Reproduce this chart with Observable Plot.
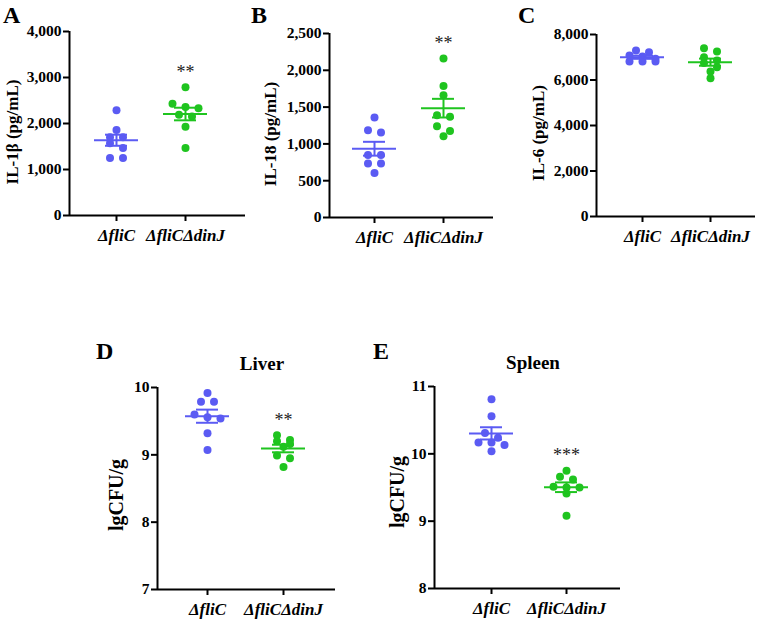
<!DOCTYPE html>
<html>
<head>
<meta charset="utf-8">
<script src="https://cdn.jsdelivr.net/npm/d3@7"></script>
<script src="https://cdn.jsdelivr.net/npm/@observablehq/plot@0.6"></script>
<style>
  html, body { margin: 0; padding: 0; background: #fff; }
  #fig { position: relative; width: 757px; height: 620px; background: #fff; overflow: hidden;
         font-family: "Liberation Serif", "Times New Roman", serif; font-weight: bold; color: #000; }
  .box { position: absolute; }
  .txt { position: absolute; white-space: nowrap; line-height: 1; }
  .letter { font-size: 24px; }
  .ylab { font-size: 17px; transform: translate(-50%, -50%) rotate(-90deg); }
  .title { font-size: 19px; transform: translate(-50%, -50%); }
  svg [aria-label="x-axis tick label"] { font-style: italic; font-size: 17px; }
  svg [aria-label="y-axis tick label"] { font-size: 15.5px; }
  svg [aria-label="x-axis tick"], svg [aria-label="y-axis tick"] { stroke-width: 2px; }
</style>
</head>
<body>
<div id="fig"></div>
<script>
// ---- data ----
const groups = ["ΔfliC", "ΔfliCΔdinJ"];

const il1bFliC = [2290, 1860, 1700, 1700, 1570, 1470, 1250, 1250];
const il1bDinJ = [2790, 2430, 2360, 2330, 2190, 2150, 1930, 1470];

const il18FliC = [1360, 1185, 1155, 850, 850, 735, 735, 605];
const il18DinJ = [2160, 1785, 1660, 1390, 1370, 1240, 1175, 1105];

const il6FliC = [7300, 7220, 7080, 7030, 6930, 6810, 6810, 6810];
const il6DinJ = [7400, 7250, 7000, 6860, 6750, 6560, 6370, 6080];

const liverFliC = [9.92, 9.79, 9.79, 9.60, 9.56, 9.54, 9.32, 9.07];
const liverDinJ = [9.29, 9.22, 9.20, 9.16, 9.12, 8.99, 8.95, 8.82];

const spleenFliC = [10.81, 10.56, 10.31, 10.24, 10.17, 10.17, 10.13, 10.04];
const spleenDinJ = [9.75, 9.66, 9.62, 9.51, 9.50, 9.50, 9.41, 9.08];

const ticksA = [0, 1000, 2000, 3000, 4000];
const ticksB = [0, 500, 1000, 1500, 2000, 2500];
const ticksC = [0, 2000, 4000, 6000, 8000];
const ticksD = [7, 8, 9, 10];
const ticksE = [8, 9, 10, 11];

const labelsY = ["IL-1β (pg/mL)", "IL-18 (pg/mL)", "IL-6 (pg/mL)", "lgCFU/g", "lgCFU/g"];
const titles = ["", "", "", "Liver", "Spleen"];
const panelLetters = ["A", "B", "C", "D", "E"];
const stars = ["**", "**", "", "**", "***"];

// ---- style ----
const colors = ["#5b5bf3", "#1fc41f"];
const dotR = 4, rowSpacing = 13, rowTol = 5, meanHalf = 22, capHalf = 11;

// ---- layout (page pixels) ----
const panels = [
  {box:[0,0,250,260],   L:69,  R:245, T:31,  B:215, c:[116,185], ticks:ticksA, fmt:",", data:[il1bFliC, il1bDinJ],
   letter:[3,3], ylab:[12,132], title:null},
  {box:[250,0,250,260], L:329, R:493, T:33,  B:217, c:[374,443], ticks:ticksB, fmt:",", data:[il18FliC, il18DinJ],
   letter:[251,3], ylab:[270,134], title:null},
  {box:[500,0,257,260], L:596, R:755, T:34,  B:216, c:[642,710], ticks:ticksC, fmt:",", data:[il6FliC, il6DinJ],
   letter:[518,3], ylab:[538,133], title:null},
  {box:[90,300,260,320], L:157, R:335, T:387, B:589, c:[207,283], ticks:ticksD, fmt:"d", data:[liverFliC, liverDinJ],
   letter:[96,339], ylab:[116,495], title:[262,363]},
  {box:[370,300,260,320], L:434, R:620, T:386, B:588, c:[491,566], ticks:ticksE, fmt:"d", data:[spleenFliC, spleenDinJ],
   letter:[373,339], ylab:[397,492], title:[533,362]}
];

const fig = document.getElementById("fig");

function rowOffsets(values, toPx) {
  const order = values.map((v, i) => i).sort((a, b) => values[b] - values[a] || a - b);
  const rows = []; let cur = null;
  for (const i of order) {
    const py = toPx(values[i]);
    if (cur && py - cur.start <= rowTol) cur.items.push(i);
    else { cur = {start: py, items: [i]}; rows.push(cur); }
  }
  const off = new Array(values.length);
  for (const r of rows) r.items.forEach((i, k) => off[i] = (k - (r.items.length - 1) / 2) * rowSpacing);
  return off;
}

panels.forEach((p, pi) => {
  const [bx, by, bw, bh] = p.box;
  const unit = p.c[1] - p.c[0];
  const d0 = 1 - (p.c[0] - p.L) / unit;
  const d1 = 2 + (p.R - p.c[1]) / unit;
  const ymin = p.ticks[0], ymax = p.ticks[p.ticks.length - 1];
  const toPx = v => p.T + (ymax - v) / (ymax - ymin) * (p.B - p.T);

  const points = [], stats = [];
  p.data.forEach((vals, gi) => {
    const off = rowOffsets(vals, toPx);
    vals.forEach((v, i) => points.push({g: gi, x: gi + 1 + off[i] / unit, y: v}));
    const m = d3.mean(vals), sem = d3.deviation(vals) / Math.sqrt(vals.length);
    stats.push({g: gi, x: gi + 1, mean: m, lo: m - sem, hi: m + sem, max: d3.max(vals)});
  });

  const marks = [
    Plot.axisY({ticks: p.ticks, tickFormat: d3.format(p.fmt), tickSize: 6, tickPadding: 2}),
    Plot.axisX({ticks: [1, 2], tickFormat: i => groups[i - 1], tickSize: 6, tickPadding: 7}),
    Plot.ruleY([ymin], {strokeWidth: 2}),
    Plot.ruleX([d0], {y1: ymin, y2: ymax, strokeWidth: 2}),
    Plot.dot(points, {x: "x", y: "y", r: dotR, fill: d => colors[d.g], stroke: "none"}),
    Plot.ruleY(stats, {y: "mean", x1: d => d.x - meanHalf / unit, x2: d => d.x + meanHalf / unit, stroke: d => colors[d.g], strokeWidth: 2}),
    Plot.ruleY(stats, {y: "lo", x1: d => d.x - capHalf / unit, x2: d => d.x + capHalf / unit, stroke: d => colors[d.g], strokeWidth: 2}),
    Plot.ruleY(stats, {y: "hi", x1: d => d.x - capHalf / unit, x2: d => d.x + capHalf / unit, stroke: d => colors[d.g], strokeWidth: 2}),
    Plot.ruleX(stats, {x: "x", y1: "lo", y2: "hi", stroke: d => colors[d.g], strokeWidth: 2})
  ];
  if (stars[pi]) {
    marks.push(Plot.text([stats[1]], {x: "x", y: "max", text: () => stars[pi], dy: -15, fill: "#222",
      fontSize: 18, fontWeight: "normal"}));
  }

  const chart = Plot.plot({
    width: bw, height: bh,
    marginLeft: p.L - bx, marginRight: bx + bw - p.R,
    marginTop: p.T - by, marginBottom: by + bh - p.B,
    x: {domain: [d0, d1], label: null},
    y: {domain: [ymin, ymax], label: null},
    style: {fontFamily: "'Liberation Serif', 'Times New Roman', serif", fontSize: "16px", fontWeight: "bold",
            background: "transparent", overflow: "visible", color: "#000"},
    marks
  });
  const box = document.createElement("div");
  box.className = "box";
  box.style.left = bx + "px"; box.style.top = by + "px";
  box.appendChild(chart);
  fig.appendChild(box);

  const lt = document.createElement("div");
  lt.className = "txt letter";
  lt.textContent = panelLetters[pi];
  lt.style.left = p.letter[0] + "px"; lt.style.top = p.letter[1] + "px";
  fig.appendChild(lt);

  const yl = document.createElement("div");
  yl.className = "txt ylab";
  yl.textContent = labelsY[pi];
  yl.style.left = p.ylab[0] + "px"; yl.style.top = p.ylab[1] + "px";
  if (pi >= 3) yl.style.fontSize = "20px";
  fig.appendChild(yl);

  if (p.title) {
    const tt = document.createElement("div");
    tt.className = "txt title";
    tt.textContent = titles[pi];
    tt.style.left = p.title[0] + "px"; tt.style.top = p.title[1] + "px";
    fig.appendChild(tt);
  }
});
</script>
</body>
</html>
